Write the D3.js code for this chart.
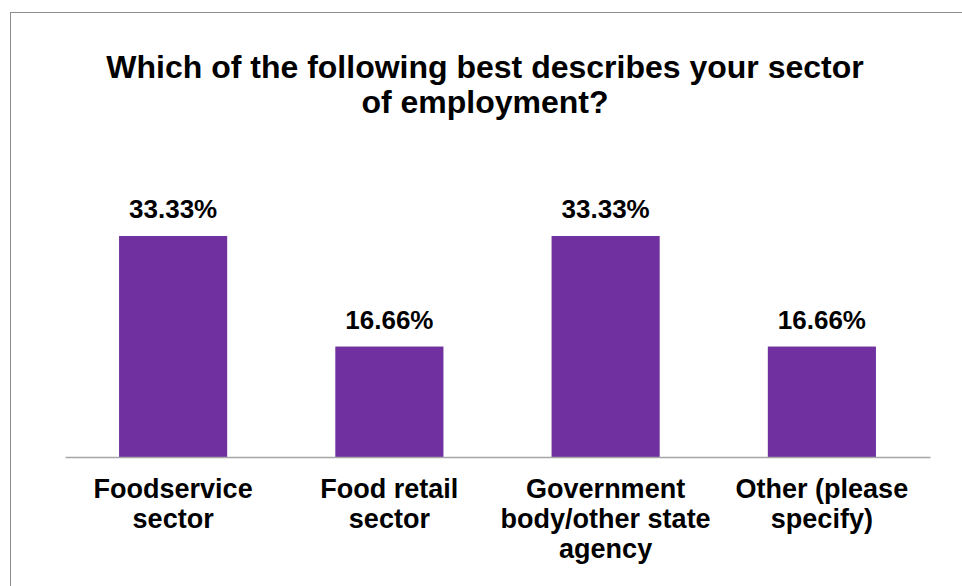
<!DOCTYPE html>
<html>
<head>
<meta charset="utf-8">
<script src="https://cdn.jsdelivr.net/npm/d3@7/dist/d3.min.js"></script>
<style>
  html, body { margin: 0; padding: 0; background: #fff; }
  svg { display: block; }
  text { font-family: "Liberation Sans", Arial, sans-serif; font-weight: bold; fill: #000; }
</style>
</head>
<body>
<svg id="chart" width="962" height="586"></svg>
<script>
// Survey responses: sector of employment
const titleLines = ["Which of the following best describes your sector", "of employment?"];
const categories = [
  ["Foodservice", "sector"],
  ["Food retail", "sector"],
  ["Government", "body/other state", "agency"],
  ["Other (please", "specify)"]
];
const values = [33.33, 16.66, 33.33, 16.66];
const valueLabels = ["33.33%", "16.66%", "33.33%", "16.66%"];

const W = 962, H = 586;
const svg = d3.select("#chart");

// outer frame (open on the right and bottom edges)
svg.append("rect")
  .attr("x", 10.5).attr("y", 12.5)
  .attr("width", W + 20).attr("height", H + 20)
  .attr("fill", "none").attr("stroke", "#8c8c8c").attr("stroke-width", 1);

const plot = { left: 65, right: 930, bottom: 457 };

const x = d3.scaleBand()
  .domain(d3.range(values.length))
  .range([plot.left, plot.right])
  .paddingInner(0.5).paddingOuter(0.25);

const y = d3.scaleLinear().domain([0, 40]).range([plot.bottom, plot.bottom - 265.2]);

// title
svg.append("text")
  .attr("text-anchor", "middle")
  .style("font-size", "32px")
  .selectAll("tspan").data(titleLines).join("tspan")
  .attr("x", 485).attr("y", (d, i) => 78 + i * 35)
  .text(d => d);

// bars
svg.append("g").selectAll("rect").data(values).join("rect")
  .attr("x", (d, i) => x(i))
  .attr("y", d => y(d))
  .attr("width", x.bandwidth())
  .attr("height", d => y(0) - y(d))
  .attr("fill", "#7030A0");

// value labels
svg.append("g").selectAll("text").data(values).join("text")
  .attr("x", (d, i) => x(i) + x.bandwidth() / 2)
  .attr("y", d => y(d) - 18)
  .attr("text-anchor", "middle")
  .style("font-size", "26px")
  .text((d, i) => valueLabels[i]);

// category axis
const xAxis = svg.append("g")
  .attr("transform", `translate(0,${plot.bottom})`)
  .call(d3.axisBottom(x).tickSize(0).tickFormat(""));
xAxis.select(".domain").attr("stroke", "#a6a6a6").attr("stroke-width", 1.5);

svg.append("g").selectAll("text").data(categories).join("text")
  .attr("text-anchor", "middle")
  .style("font-size", "27px")
  .each(function (lines, i) {
    d3.select(this).selectAll("tspan").data(lines).join("tspan")
      .attr("x", x(i) + x.bandwidth() / 2)
      .attr("y", (d, j) => 498 + j * 30)
      .text(d => d);
  });
</script>
</body>
</html>
